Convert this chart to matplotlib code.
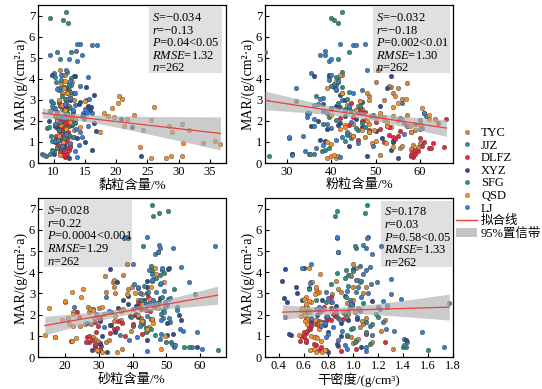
import numpy as np
import matplotlib
matplotlib.use('Agg')
import matplotlib.pyplot as plt
from matplotlib.lines import Line2D
from matplotlib.patches import Patch, Rectangle

plt.rcParams['font.family'] = ['Liberation Serif', 'Noto Sans CJK SC']
plt.rcParams['mathtext.fontset'] = 'custom'
plt.rcParams['mathtext.rm'] = 'Liberation Serif'
plt.rcParams['mathtext.it'] = 'Liberation Serif:italic'

groups = ['TYC', 'JJZ', 'DLFZ', 'XYZ', 'SFG', 'QSD', 'LJ']
colors = {'TYC': '#c98a45', 'JJZ': '#3f7fb8', 'DLFZ': '#e02c3c', 'XYZ': '#2f4d8f',
          'SFG': '#2e8c86', 'QSD': '#f28e2b', 'LJ': '#3b7dd0'}

# ---- data per group: MAR, clay %, silt %, sand %, dry density ----
DLFZ_mar = [0.30,0.35,0.40,0.45,0.50,0.55,0.60,0.70,0.72,0.75,0.80,0.95,1.00,1.00,1.10,1.15,1.20,1.25,1.30,1.35,1.45,1.50,1.55,1.60,1.65,1.70,1.75,1.80,1.85,1.90,1.95,2.00,2.05,2.10,2.15,2.20,2.35,2.40,2.60,2.85]
DLFZ_clay = [11.8,12.0,11.5,12.2,11.0,11.6,12.4,10.8,11.2,12.6,11.4,10.5,11.9,10.2,11.3,12.1,10.7,11.1,10.4,11.7,12.3,10.9,11.5,12.0,10.6,11.3,12.5,10.3,11.0,11.8,10.8,12.2,11.4,10.6,12.8,11.1,12.0,10.5,11.6,10.9]
DLFZ_silt = [58.5,58.0,58.0,59.0,58.2,59.5,58.8,62.0,62.5,65.5,60.5,63.0,61.0,52.0,46.0,54.5,60.0,54.0,55.0,53.0,58.0,55.5,48.5,51.0,60.5,53.0,57.0,44.0,59.0,64.0,50.0,47.0,47.5,66.0,42.0,45.0,47.0,47.5,46.5,44.5]
DLFZ_sand = [29.7,30.0,30.5,28.8,30.8,28.9,28.8,27.2,26.3,21.9,28.1,26.5,27.1,37.8,42.7,33.4,29.3,34.9,34.6,35.3,29.7,33.6,40.0,37.0,28.9,35.7,30.5,45.7,30.0,24.2,39.2,40.8,41.1,23.4,45.2,43.9,41.0,42.0,41.9,44.6]
DLFZ_dens = [0.90,0.72,1.02,0.74,0.88,0.70,0.68,0.62,1.25,0.57,0.62,0.60,0.58,0.95,1.10,0.62,0.60,0.63,0.65,0.64,0.66,0.64,0.70,0.66,0.75,0.78,0.82,0.92,0.80,0.78,0.85,0.86,0.84,0.72,0.96,0.74,0.76,0.62,0.82,0.82]

QSD_mar = [2.85,3.20,3.05,2.35,2.25,2.60,2.20,1.45,1.75,2.10,2.30,0.75,1.55,2.05,2.65,0.25,0.25,1.75,0.35,1.45,1.85,0.95,0.35,1.55,0.95,1.05,0.90,0.40,1.00,1.30,1.60,1.80,2.00,2.30,2.50,2.75,3.00,3.30,3.55,3.90,4.20,1.95,2.15,1.70,2.95]
QSD_clay = [20.3,20.5,21.0,18.0,18.7,19.3,19.6,17.5,21.3,21.7,22.8,23.9,24.3,25.6,26.0,25.6,28.0,28.5,28.8,29.0,30.5,30.7,30.6,31.7,33.9,35.8,36.7,11.0,11.5,10.8,12.0,11.2,10.5,12.4,11.8,11.3,10.9,12.1,11.6,11.9,11.4,12.6,13.5,14.2,15.0]
QSD_silt = [55.0,54.3,56.8,51.0,54.0,60.6,52.0,58.0,57.7,56.0,62.0,54.0,49.7,52.0,54.0,39.0,41.0,52.5,41.5,48.5,48.5,52.3,40.0,47.0,49.1,50.2,40.0,40.5,39.0,45.0,42.0,43.0,48.0,40.0,45.5,43.5,48.5,42.5,39.0,41.0,42.0,52.5,50.0,43.0,46.5]
QSD_sand = [24.7,25.2,22.2,31.0,27.3,20.1,28.4,24.5,21.0,22.3,15.2,22.1,26.0,22.4,20.0,35.4,31.0,19.0,29.7,22.5,21.0,17.0,29.4,21.3,17.0,14.0,23.3,48.5,49.5,44.2,46.0,45.8,41.5,47.6,42.7,45.2,40.6,45.4,49.4,47.1,46.6,34.9,36.5,42.8,38.5]
QSD_dens = [0.62,0.70,0.72,0.63,0.60,0.66,0.58,0.72,0.70,0.64,0.62,0.74,0.72,0.60,0.64,0.70,0.75,0.69,0.65,0.73,0.62,0.70,0.77,0.63,0.68,0.56,0.71,0.68,0.66,0.72,0.74,0.63,0.61,0.59,0.62,0.60,0.71,0.70,0.67,0.73,0.64,0.58,0.65,0.61,0.69]

TYC_mar = [0.40,0.65,0.70,0.80,0.85,0.95,0.75,1.25,1.40,1.55,1.70,1.75,1.85,1.85,2.05,2.10,2.10,2.25,2.30,2.35,2.55,2.70,2.95,3.00,3.05,3.20,3.30,3.30,3.55,3.60,3.65,3.80,3.85,4.20,4.40]
TYC_clay = [12.0,11.5,12.3,11.0,12.6,11.8,10.6,12.9,11.2,13.2,12.0,10.9,11.5,12.4,13.5,11.0,12.8,11.7,13.0,12.2,11.3,12.5,10.8,13.3,11.9,12.7,11.4,12.1,10.7,11.6,12.4,11.2,12.9,11.8,11.0]
TYC_silt = [51.0,58.0,55.5,56.0,58.5,60.0,59.5,47.5,44.0,59.0,53.5,52.5,60.0,45.0,55.0,62.0,63.5,51.0,57.0,61.0,47.0,46.0,46.5,52.0,56.0,48.5,54.0,48.0,55.0,53.5,53.0,57.0,50.0,42.5,50.5]
TYC_sand = [37.0,30.5,32.2,33.0,28.9,28.2,29.9,39.6,44.8,27.8,34.5,36.6,28.5,42.6,31.5,27.0,23.7,37.3,30.0,26.8,41.7,41.5,42.7,34.7,32.1,38.8,34.6,39.9,34.3,34.9,34.6,31.8,37.1,45.7,38.5]
TYC_dens = [1.32,1.00,1.15,1.02,1.04,0.98,1.02,1.22,1.05,1.08,1.07,1.25,0.95,1.10,0.96,1.01,0.92,0.85,1.04,0.99,0.95,1.00,0.83,1.08,0.90,0.88,1.10,1.00,1.05,0.86,1.04,0.98,0.97,1.02,1.00]

SFG_mar = [6.90,6.80,7.15,6.65,5.25,4.95,0.35,0.45,0.45,0.55,0.60,0.70,1.05,1.20,1.30,1.35,1.55,1.65,1.70,1.85,2.05,2.20,2.35,2.55,2.60,2.70,2.85,3.05,3.20,3.35,3.45,3.60,3.75,3.85,3.95,4.05,4.10,4.30,1.90,2.45]
SFG_clay = [9.5,11.5,12.0,12.3,12.8,11.0,8.8,8.2,9.5,10.0,9.8,10.5,10.2,11.6,9.6,12.5,10.8,11.9,9.3,12.9,10.6,11.4,12.2,10.1,12.7,11.1,9.9,12.0,11.3,12.6,10.9,11.7,12.4,10.4,11.2,12.8,10.3,12.1,13.5,9.4]
SFG_silt = [40.0,40.7,42.3,41.5,44.0,41.5,26.0,35.0,35.2,37.8,38.5,39.5,43.0,44.5,45.0,43.5,46.0,45.5,47.5,38.0,41.0,39.5,34.5,43.0,44.0,46.5,41.5,43.5,36.5,44.0,41.0,42.5,40.5,41.5,39.5,41.5,41.0,42.5,47.0,44.5]
SFG_sand = [50.5,47.8,45.7,46.2,43.2,47.5,65.2,56.8,55.3,52.2,51.7,50.0,46.8,43.9,45.4,44.0,43.2,42.6,43.2,49.1,48.4,49.1,53.3,46.9,43.3,42.4,48.6,44.5,52.2,43.4,48.1,45.8,47.1,48.1,49.3,45.7,48.7,45.4,39.5,46.1]
SFG_dens = [0.87,1.09,1.11,0.85,1.01,0.88,1.60,1.40,1.42,1.41,1.13,1.01,0.95,1.10,0.98,1.00,1.15,1.10,0.72,0.88,0.93,1.05,0.97,1.08,0.78,0.70,0.94,1.02,0.64,0.96,0.82,1.06,0.93,0.96,0.87,1.00,0.94,1.05,1.20,0.99]

XYZ_mar = [4.15,3.60,2.80,2.60,1.90,1.05,1.10,3.30,2.70,3.00,4.20,2.10,1.70,0.35,2.25,1.50,1.20,0.60,0.25,1.00,2.90,2.50,1.80,3.55,2.40,1.60,2.30,2.70,4.15,0.80,1.75,3.25,2.00,0.45,2.65]
XYZ_clay = [13.5,15.2,14.0,12.2,16.5,11.3,10.5,13.2,15.5,12.6,9.8,20.8,22.5,24.0,14.5,16.8,13.8,16.2,12.5,15.0,14.2,15.8,12.9,12.0,13.1,10.8,14.8,11.9,13.2,11.6,10.2,16.5,9.2,10.0,16.0]
XYZ_silt = [36.0,40.5,38.0,40.0,42.0,38.5,37.5,42.5,41.0,43.0,39.5,45.5,47.0,48.0,43.0,50.0,51.5,53.5,55.0,54.0,47.0,45.5,41.5,52.5,46.0,39.0,49.5,51.0,53.5,44.0,35.5,42.0,37.0,31.0,41.5]
XYZ_sand = [50.5,44.3,48.0,47.8,41.5,50.2,52.0,44.3,43.5,44.4,50.7,33.7,30.5,28.0,42.5,33.2,34.7,30.3,32.5,31.0,38.8,38.7,45.6,35.5,40.9,50.2,35.7,37.1,33.3,44.4,54.3,41.5,53.8,59.0,42.5]
XYZ_dens = [0.45,0.43,0.44,0.47,0.45,0.50,0.48,0.54,0.59,0.55,0.60,0.63,0.66,0.78,0.73,0.77,0.80,0.87,0.80,0.90,0.93,0.99,1.03,0.66,0.86,0.90,0.82,0.75,1.00,1.42,0.96,0.64,0.71,1.06,1.15]

JJZ_mar = [5.25,5.15,5.30,4.85,5.65,5.15,5.60,5.60,4.25,3.55,3.70,2.95,2.75,2.55,2.65,2.45,1.20,0.45,0.85,0.70,4.10,3.00,1.25,1.30,1.65,2.35,2.85,1.45,2.05,1.90,0.45,1.05,2.25,2.35,3.45]
JJZ_clay = [10.5,9.5,13.6,13.8,14.3,14.5,16.2,17.0,10.0,11.2,12.8,9.6,13.5,15.0,15.5,11.7,10.4,11.3,14.0,12.1,15.5,15.2,13.3,12.4,9.0,14.7,12.0,11.5,10.9,13.0,11.8,9.8,10.2,16.2,12.5]
JJZ_silt = [25.0,38.5,38.5,39.5,47.5,37.5,45.0,45.5,35.5,32.0,41.0,32.0,36.0,40.0,42.0,38.0,30.5,31.0,38.0,36.5,39.5,42.5,42.5,33.5,40.0,39.0,56.0,48.5,60.0,56.5,36.0,54.0,61.5,61.0,47.0]
JJZ_sand = [64.5,52.0,47.9,46.7,38.2,48.0,38.8,37.5,54.5,56.8,46.2,58.4,50.5,45.0,42.5,50.3,59.1,57.7,48.0,51.4,45.0,42.3,44.2,54.1,51.0,46.3,32.0,40.0,29.1,30.5,52.2,36.2,28.3,22.8,40.5]
JJZ_dens = [1.22,1.02,1.08,1.15,1.12,1.10,0.87,1.11,1.13,1.19,1.30,1.30,1.38,1.77,1.24,1.27,1.55,1.73,1.41,1.43,1.10,1.12,1.33,1.26,1.24,1.20,1.06,1.13,1.18,1.03,1.10,1.15,1.21,1.27,1.14]

LJ_mar = [5.65,4.40,4.20,3.90,3.65,3.50,3.10,3.05,2.80,2.60,2.50,2.35,2.20,2.10,1.95,1.85,1.75,1.60,1.40,1.25,1.10,0.95,0.80,0.55,0.40,0.30,2.70,3.30,2.15,1.45,4.95,2.25]
LJ_clay = [13.8,12.0,11.2,12.7,14.2,10.6,12.6,15.6,11.9,10.3,13.1,15.3,12.3,14.8,11.1,10.2,15.5,13.6,12.0,14.6,10.7,12.6,11.4,13.4,8.5,13.7,9.8,13.4,11.6,14.2,12.4,10.9]
LJ_silt = [42.0,48.0,40.0,41.5,40.0,41.0,38.0,37.5,37.0,40.0,43.0,35.0,34.5,36.0,44.5,39.0,36.0,60.0,56.5,30.5,41.0,46.0,49.5,34.0,31.0,42.0,44.0,45.0,55.5,43.5,40.0,49.0]
LJ_sand = [44.2,40.0,48.8,45.8,45.8,48.4,49.4,46.9,51.1,49.7,43.9,49.7,53.2,49.2,44.4,50.8,48.5,26.4,31.5,54.9,48.3,41.4,39.1,52.6,60.5,44.3,46.2,41.6,32.9,42.3,47.6,40.1]
LJ_dens = [0.87,0.66,0.59,1.08,1.02,0.65,0.95,0.78,0.80,0.83,0.98,0.72,0.75,0.86,0.79,0.66,0.89,0.77,0.84,0.91,0.80,0.78,0.88,0.93,0.95,1.10,0.97,1.04,1.05,0.74,0.88,0.70]

variables = ['clay', 'silt', 'sand', 'dens']
xlabels = ['黏粒含量/%', '粉粒含量/%', '砂粒含量/%', '干密度/(g/cm³)']
xlims = [(7.5, 37.6), (25.0, 67.5), (12.0, 67.7), (0.29, 1.78)]
xticks = [[10, 15, 20, 25, 30, 35], [30, 40, 50, 60], [20, 30, 40, 50, 60],
          [0.4, 0.6, 0.8, 1.0, 1.2, 1.4, 1.6, 1.8]]
# fit line (slope S, intercept) and statistics
fit_slope = [-0.034, -0.032, 0.028, 0.178]
fit_intercept = [2.65, 3.77, 1.09, 2.04]
stat_S = ['−0.034', '−0.032', '0.028', '0.178']
stat_r = ['−0.13', '−0.18', '0.22', '0.03']
stat_P = ['0.04<0.05', '0.002<0.01', '0.0004<0.001', '0.58<0.05']
stat_RMSE = [1.32, 1.30, 1.29, 1.33]
stat_n = [262, 262, 262, 262]

data = {}
for g in groups:
    data[g] = {v: np.array(globals()[f'{g}_{v}']) for v in variables}
    data[g]['mar'] = np.array(globals()[f'{g}_mar'])

W, H = 542, 389
fig = plt.figure(figsize=(W / 100, H / 100), dpi=100)
ax_pos = [(38, 5, 226, 163), (265, 5, 453, 163), (38, 198, 226, 357), (265, 198, 453, 357)]
box_pos = [(0.59, 0.57, 0.979, 0.987), (0.574, 0.57, 0.984, 0.987),
           (0.032, 0.566, 0.50, 0.987), (0.617, 0.566, 0.995, 0.98)]

for i, var in enumerate(variables):
    l, t, r, b = ax_pos[i]
    ax = fig.add_axes([l / W, 1 - b / H, (r - l) / W, (b - t) / H])
    allx = np.concatenate([data[g][var] for g in groups])
    for g in groups:
        ax.scatter(data[g][var], data[g]['mar'], s=11, color=colors[g],
                   edgecolor='#333333', linewidth=0.25, zorder=3)
    xs = np.linspace(allx.min(), allx.max(), 100)
    ys = fit_intercept[i] + fit_slope[i] * xs
    n = len(allx)
    sxx = np.sum((allx - allx.mean()) ** 2)
    half = 1.97 * stat_RMSE[i] * np.sqrt(1.0 / n + (xs - allx.mean()) ** 2 / sxx)
    ax.fill_between(xs, ys - half, ys + half, color='#b0b0b0', alpha=0.65,
                    linewidth=0, zorder=4)
    ax.plot(xs, ys, color='#e8403a', lw=0.9, zorder=5)
    ax.set_xlim(*xlims[i])
    ax.set_ylim(0, 7.5)
    ax.set_xticks(xticks[i])
    ax.set_xticklabels([f'{v:g}' if i < 3 else f'{v:.1f}' for v in xticks[i]])
    ax.set_yticks(range(0, 8))
    ax.tick_params(direction='in', length=3, width=0.8, labelsize=9, pad=2)
    for s in ax.spines.values():
        s.set_linewidth(0.9)
    ax.set_xlabel(xlabels[i], fontsize=9.5, labelpad=1)
    ax.set_ylabel('MAR/(g/(cm²·a)', fontsize=10, labelpad=1)
    x0, y0, x1, y1 = box_pos[i]
    ax.add_patch(Rectangle((x0, y0), x1 - x0, y1 - y0, transform=ax.transAxes,
                           facecolor='#e0e0e0', edgecolor='none', zorder=2))
    lines = [r'$\mathit{S}$=' + stat_S[i], r'$\mathit{r}$=' + stat_r[i],
             r'$\mathit{P}$=' + stat_P[i], r'$\mathit{RMSE}$=' + f'{stat_RMSE[i]:.2f}',
             r'$\mathit{n}$=' + str(stat_n[i])]
    for k, line in enumerate(lines):
        ax.text(x0 + 0.015, y1 - 0.09 - k * 0.079, line, transform=ax.transAxes,
                fontsize=9, va='baseline', ha='left', zorder=6)

handles = [Line2D([], [], marker='o', linestyle='none', markersize=3.2,
                  markerfacecolor=colors[g], markeredgecolor='#444444',
                  markeredgewidth=0.2) for g in groups]
handles += [Line2D([], [], color='#e8403a', lw=1.0), Patch(facecolor='#c4c4c4', edgecolor='none')]
labels = groups + ['拟合线', '95%置信带']
fig.legend(handles, labels, loc='upper left', bbox_to_anchor=(456 / W, 1 - 127 / H),
           frameon=False, fontsize=9, handlelength=1.7, handletextpad=0.3,
           labelspacing=0.05, borderpad=0, borderaxespad=0)

fig.savefig('out.png', dpi=100)
